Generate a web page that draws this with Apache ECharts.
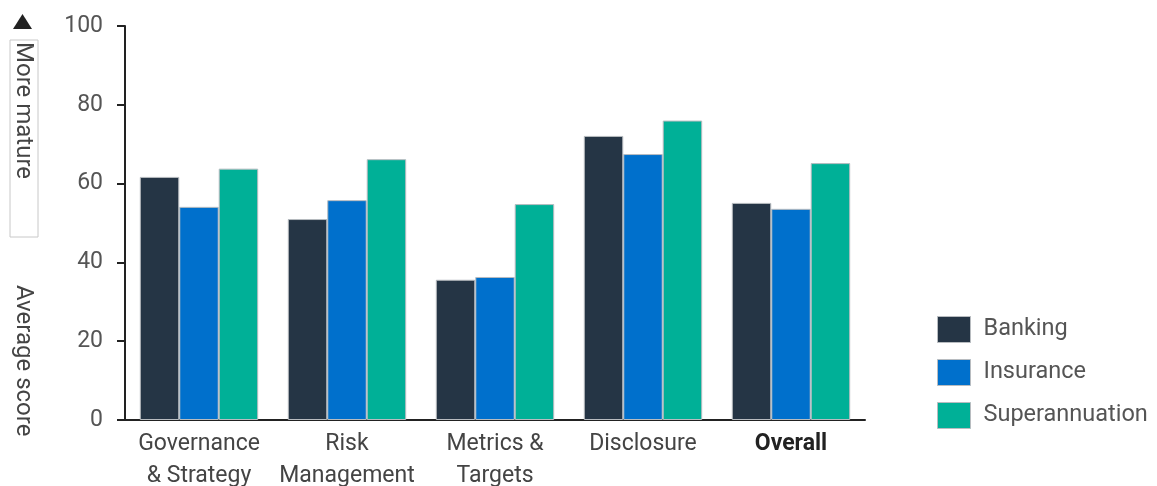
<!DOCTYPE html>
<html>
<head>
<meta charset="utf-8">
<script src="https://cdn.jsdelivr.net/npm/echarts@6/dist/echarts.min.js"></script>
<style>html,body{margin:0;padding:0;background:#fff}#c{width:1157px;height:486px}</style>
</head>
<body>
<div id="c"></div>
<script>
var categories = ['Governance\n& Strategy', 'Risk\nManagement', 'Metrics &\nTargets', 'Disclosure', 'Overall'];
var seriesNames = ['Banking', 'Insurance', 'Superannuation'];
var banking = [61.7, 51.0, 35.6, 72.1, 55.1];
var insurance = [54.1, 55.8, 36.3, 67.5, 53.6];
var superannuation = [63.8, 66.2, 54.8, 76.0, 65.2];
var yTicks = [0, 20, 40, 60, 80, 100];

var FONT = 'Roboto, "DejaVu Sans", sans-serif';
var colors = ['#253545', '#0070CC', '#00B097'];
var chart = echarts.init(document.getElementById('c'));
function bar(name, data, i) {
  return {
    name: name, type: 'bar', data: data,
    barGap: '0%', barCategoryGap: '20%',
    itemStyle: { color: colors[i], borderColor: '#b8bcc0', borderWidth: 1 },
    emphasis: { disabled: true }
  };
}
chart.setOption({
  animation: false,
  textStyle: { fontFamily: FONT },
  grid: { left: 125, right: 292, top: 26, bottom: 66, containLabel: false, outerBoundsMode: 'none' },
  legend: {
    orient: 'vertical', left: 937, top: 316, padding: 0,
    itemWidth: 33, itemHeight: 26, itemGap: 16,
    icon: 'rect',
    itemStyle: { borderColor: '#b8bcc0', borderWidth: 1 },
    textStyle: { fontFamily: FONT, fontSize: 23.5, color: '#555', padding: [4, 0, 0, 8] },
    data: seriesNames
  },
  xAxis: {
    type: 'category', data: categories,
    axisLine: { lineStyle: { color: '#222', width: 2 } },
    axisTick: { show: false },
    axisLabel: {
      fontFamily: FONT, fontSize: 23, color: '#444', lineHeight: 32, margin: 8,
      interval: 0,
      formatter: function (v) { return v === 'Overall' ? '{b|' + v + '}' : v; },
      rich: { b: { fontFamily: FONT, fontSize: 23, lineHeight: 32, fontWeight: 'bold', color: '#222' } }
    }
  },
  yAxis: {
    type: 'value', min: yTicks[0], max: yTicks[yTicks.length - 1], interval: 20,
    axisLine: { show: true, lineStyle: { color: '#222', width: 2 } },
    axisTick: { show: true, length: 8, lineStyle: { color: '#222', width: 2 } },
    splitLine: { show: false },
    axisLabel: { fontFamily: FONT, fontSize: 23, color: '#555', margin: 22 }
  },
  series: [bar(seriesNames[0], banking, 0), bar(seriesNames[1], insurance, 1), bar(seriesNames[2], superannuation, 2)],
  graphic: [
    { type: 'polygon', shape: { points: [[13, 29], [32, 29], [22.5, 14]] }, style: { fill: '#222' } },
    { type: 'rect', shape: { x: 10, y: 40, width: 28, height: 197 }, style: { fill: 'none', stroke: '#c8c8c8', lineWidth: 1 } },
    { type: 'text', x: 23, y: 42, rotation: -Math.PI / 2,
      style: { text: 'More mature', fontFamily: FONT, fontSize: 24, fill: '#444', align: 'left', verticalAlign: 'middle' } },
    { type: 'text', x: 23, y: 285, rotation: -Math.PI / 2,
      style: { text: 'Average score', fontFamily: FONT, fontSize: 24, fill: '#444', align: 'left', verticalAlign: 'middle' } }
  ]
});
</script>
</body>
</html>
